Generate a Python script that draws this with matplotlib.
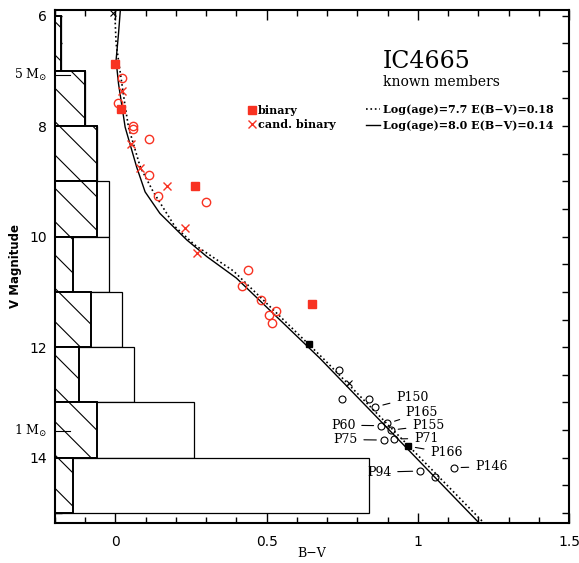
import matplotlib
matplotlib.use('Agg')
import matplotlib.pyplot as plt
from matplotlib.ticker import MultipleLocator, FormatStrFormatter
from matplotlib.lines import Line2D

plt.rcParams['font.family'] = 'DejaVu Sans'
plt.rcParams['mathtext.fontset'] = 'dejavuserif'
plt.rcParams['hatch.linewidth'] = 0.8

# histogram of members per 1 mag bin (counts)
bin_lo = [6, 7, 8, 9, 10, 11, 12, 13, 14]
n_known = [1, 5, 7, 7, 3, 6, 4, 7, 3]
n_total = [1, 5, 7, 9, 9, 11, 13, 23, 52]

# known members, red = upper part
bin_sq_bv = [0.000, 0.019, 0.262, 0.650]
bin_sq_v = [6.87, 7.69, 9.09, 11.22]
cand_bv = [0.021, 0.051, 0.082, 0.171, 0.230, 0.270]
cand_v = [7.37, 8.32, 8.75, 9.08, 9.85, 10.30]
red_bv = [0.021, 0.010, 0.059, 0.059, 0.111, 0.111, 0.140, 0.300, 0.439,
          0.419, 0.480, 0.530, 0.508, 0.519]
red_v = [7.13, 7.58, 8.00, 8.06, 8.23, 8.89, 9.27, 9.38, 10.61,
         10.89, 11.14, 11.35, 11.42, 11.57]

# black = lower part
blk_bv = [0.739, 0.749, 0.838, 0.860, 0.899, 0.879, 0.910, 0.888, 0.920,
          1.008, 1.057, 1.118]
blk_v = [12.41, 12.93, 12.93, 13.08, 13.38, 13.42, 13.50, 13.68, 13.66,
         14.24, 14.35, 14.18]
blk_sq_bv = [0.640, 0.967]
blk_sq_v = [11.94, 13.79]
blk_x_bv = [-0.007, 0.771]
blk_x_v = [5.96, 12.65]

# labelled stars
lab_names = ['P150', 'P165', 'P60', 'P155', 'P75', 'P71', 'P166', 'P94', 'P146']
lab_bv = [0.860, 0.899, 0.879, 0.910, 0.888, 0.920, 0.967, 1.008, 1.118]
lab_v = [13.08, 13.38, 13.42, 13.50, 13.68, 13.66, 13.79, 14.24, 14.18]
lab_txt = [(0.928, 12.91, 'left'), (0.960, 13.18, 'left'), (0.794, 13.41, 'right'),
           (0.981, 13.42, 'left'), (0.801, 13.67, 'right'), (0.987, 13.65, 'left'),
           (1.041, 13.91, 'left'), (0.913, 14.26, 'right'), (1.189, 14.16, 'left')]

# isochrones
iso80_bv = [0.016, 0.010, 0.002, 0.010, 0.032, 0.070, 0.098, 0.147, 0.236,
            0.302, 0.400, 0.676, 1.201]
iso80_v = [5.91, 6.33, 6.81, 7.23, 8.02, 8.74, 9.19, 9.58, 10.06,
           10.36, 10.75, 12.20, 15.17]
iso77_bv = [-0.002, 0.002, 0.010, 0.029, 0.043, 0.082, 0.125, 0.197, 0.262,
            0.390, 0.690, 1.217]
iso77_v = [5.97, 6.50, 6.81, 7.53, 8.02, 8.74, 9.19, 9.82, 10.15,
           10.62, 12.22, 15.17]

mass_labels = ['5 M$_{\\odot}$', '1 M$_{\\odot}$']
mass_v = [7.07, 13.52]

red = '#f83222'
xmin = -0.2
scale = 0.02

fig = plt.figure(figsize=(5.79, 5.63), dpi=100)
ax = fig.add_axes([55/579, 40/563, 514/579, 513/563])

ax.barh(bin_lo, [n*scale for n in n_total], height=1, left=xmin, align='edge',
        color='white', edgecolor='black', linewidth=0.9, zorder=1)
ax.barh(bin_lo, [n*scale for n in n_known], height=1, left=xmin, align='edge',
        color='white', edgecolor='black', linewidth=1.4, hatch='\\', zorder=2)

ax.plot(iso77_bv, iso77_v, ':', color='black', lw=1.2, zorder=3)
ax.plot(iso80_bv, iso80_v, '-', color='black', lw=1.0, zorder=3)

ax.plot(red_bv, red_v, 'o', ms=6, mfc='none', mec=red, mew=1.0, ls='none', zorder=4)
ax.plot(cand_bv, cand_v, 'x', ms=6, color=red, mew=1.0, ls='none', zorder=4)
ax.plot(bin_sq_bv, bin_sq_v, 's', ms=5.5, color=red, ls='none', zorder=4)
ax.plot(blk_bv, blk_v, 'o', ms=5, mfc='none', mec='black', mew=0.8, ls='none', zorder=4)
ax.plot(blk_sq_bv, blk_sq_v, 's', ms=5, color='black', ls='none', zorder=4)
ax.plot(blk_x_bv, blk_x_v, 'x', ms=5, color='black', mew=0.8, ls='none', zorder=4)

for name, bv, v, (tx, ty, ha) in zip(lab_names, lab_bv, lab_v, lab_txt):
    ax.annotate(name, xy=(bv, v), xytext=(tx, ty), ha=ha, va='center',
                family='DejaVu Serif', fontsize=9,
                arrowprops=dict(arrowstyle='-', lw=0.8, shrinkA=2.5, shrinkB=5.5))

ax.set_xlim(xmin, 1.5)
ax.set_ylim(15.18, 5.9)

# mass scale on the left
for lab, v in zip(mass_labels, mass_v):
    ax.plot([0, 0.03], [v, v], color='black', lw=0.8,
            transform=ax.get_yaxis_transform(), zorder=5)
    ax.text(-0.016, v, lab, transform=ax.get_yaxis_transform(), ha='right',
            va='center', family='DejaVu Serif', fontsize=9)

ax.text(0.638, 0.887, 'IC4665', transform=ax.transAxes, family='DejaVu Serif',
        fontsize=17, va='baseline')
ax.text(0.638, 0.852, 'known members', transform=ax.transAxes, family='DejaVu Serif',
        fontsize=10, va='baseline')

h1 = [Line2D([], [], marker='s', ms=5.5, color=red, ls='none'),
      Line2D([], [], marker='x', ms=6, color=red, mew=1.0, ls='none')]
leg1 = ax.legend(h1, ['binary', 'cand. binary'], loc='upper left',
                 bbox_to_anchor=(0.366, 0.825), frameon=False, borderpad=0,
                 handlelength=0.6, handletextpad=0.2, labelspacing=0.2,
                 prop={'family': 'DejaVu Serif', 'weight': 'bold', 'size': 8})
ax.add_artist(leg1)
h2 = [Line2D([], [], ls=':', color='black', lw=1.2),
      Line2D([], [], ls='-', color='black', lw=1.0)]
ax.legend(h2, ['Log(age)=7.7 E(B\u2212V)=0.18', 'Log(age)=8.0 E(B\u2212V)=0.14'],
          loc='upper left', bbox_to_anchor=(0.595, 0.827), frameon=False,
          borderpad=0, handlelength=1.2, handletextpad=0.3, labelspacing=0.45,
          prop={'family': 'DejaVu Serif', 'weight': 'bold', 'size': 8})

ax.xaxis.set_major_locator(MultipleLocator(0.5))
ax.xaxis.set_minor_locator(MultipleLocator(0.1))
ax.yaxis.set_major_locator(MultipleLocator(2))
ax.yaxis.set_minor_locator(MultipleLocator(0.5))
ax.xaxis.set_major_formatter(FormatStrFormatter('%g'))
ax.yaxis.set_major_formatter(FormatStrFormatter('%g'))
ax.tick_params(which='both', direction='in', top=True, right=True, labelsize=10)
ax.tick_params(axis='x', which='major', length=7, width=1, pad=9)
ax.tick_params(axis='x', which='minor', length=4, width=1)
ax.tick_params(axis='y', which='both', length=5, width=1, pad=6)
for s in ax.spines.values():
    s.set_linewidth(1.5)

ax.set_xlabel('B\u2212V', family='DejaVu Serif', fontsize=9)
ax.xaxis.set_label_coords(0.5, -0.047)
ax.set_ylabel('V Magnitude', fontsize=8.5, fontweight='bold')
ax.yaxis.set_label_coords(-0.064, 0.5)

fig.savefig('out.png', dpi=100)
